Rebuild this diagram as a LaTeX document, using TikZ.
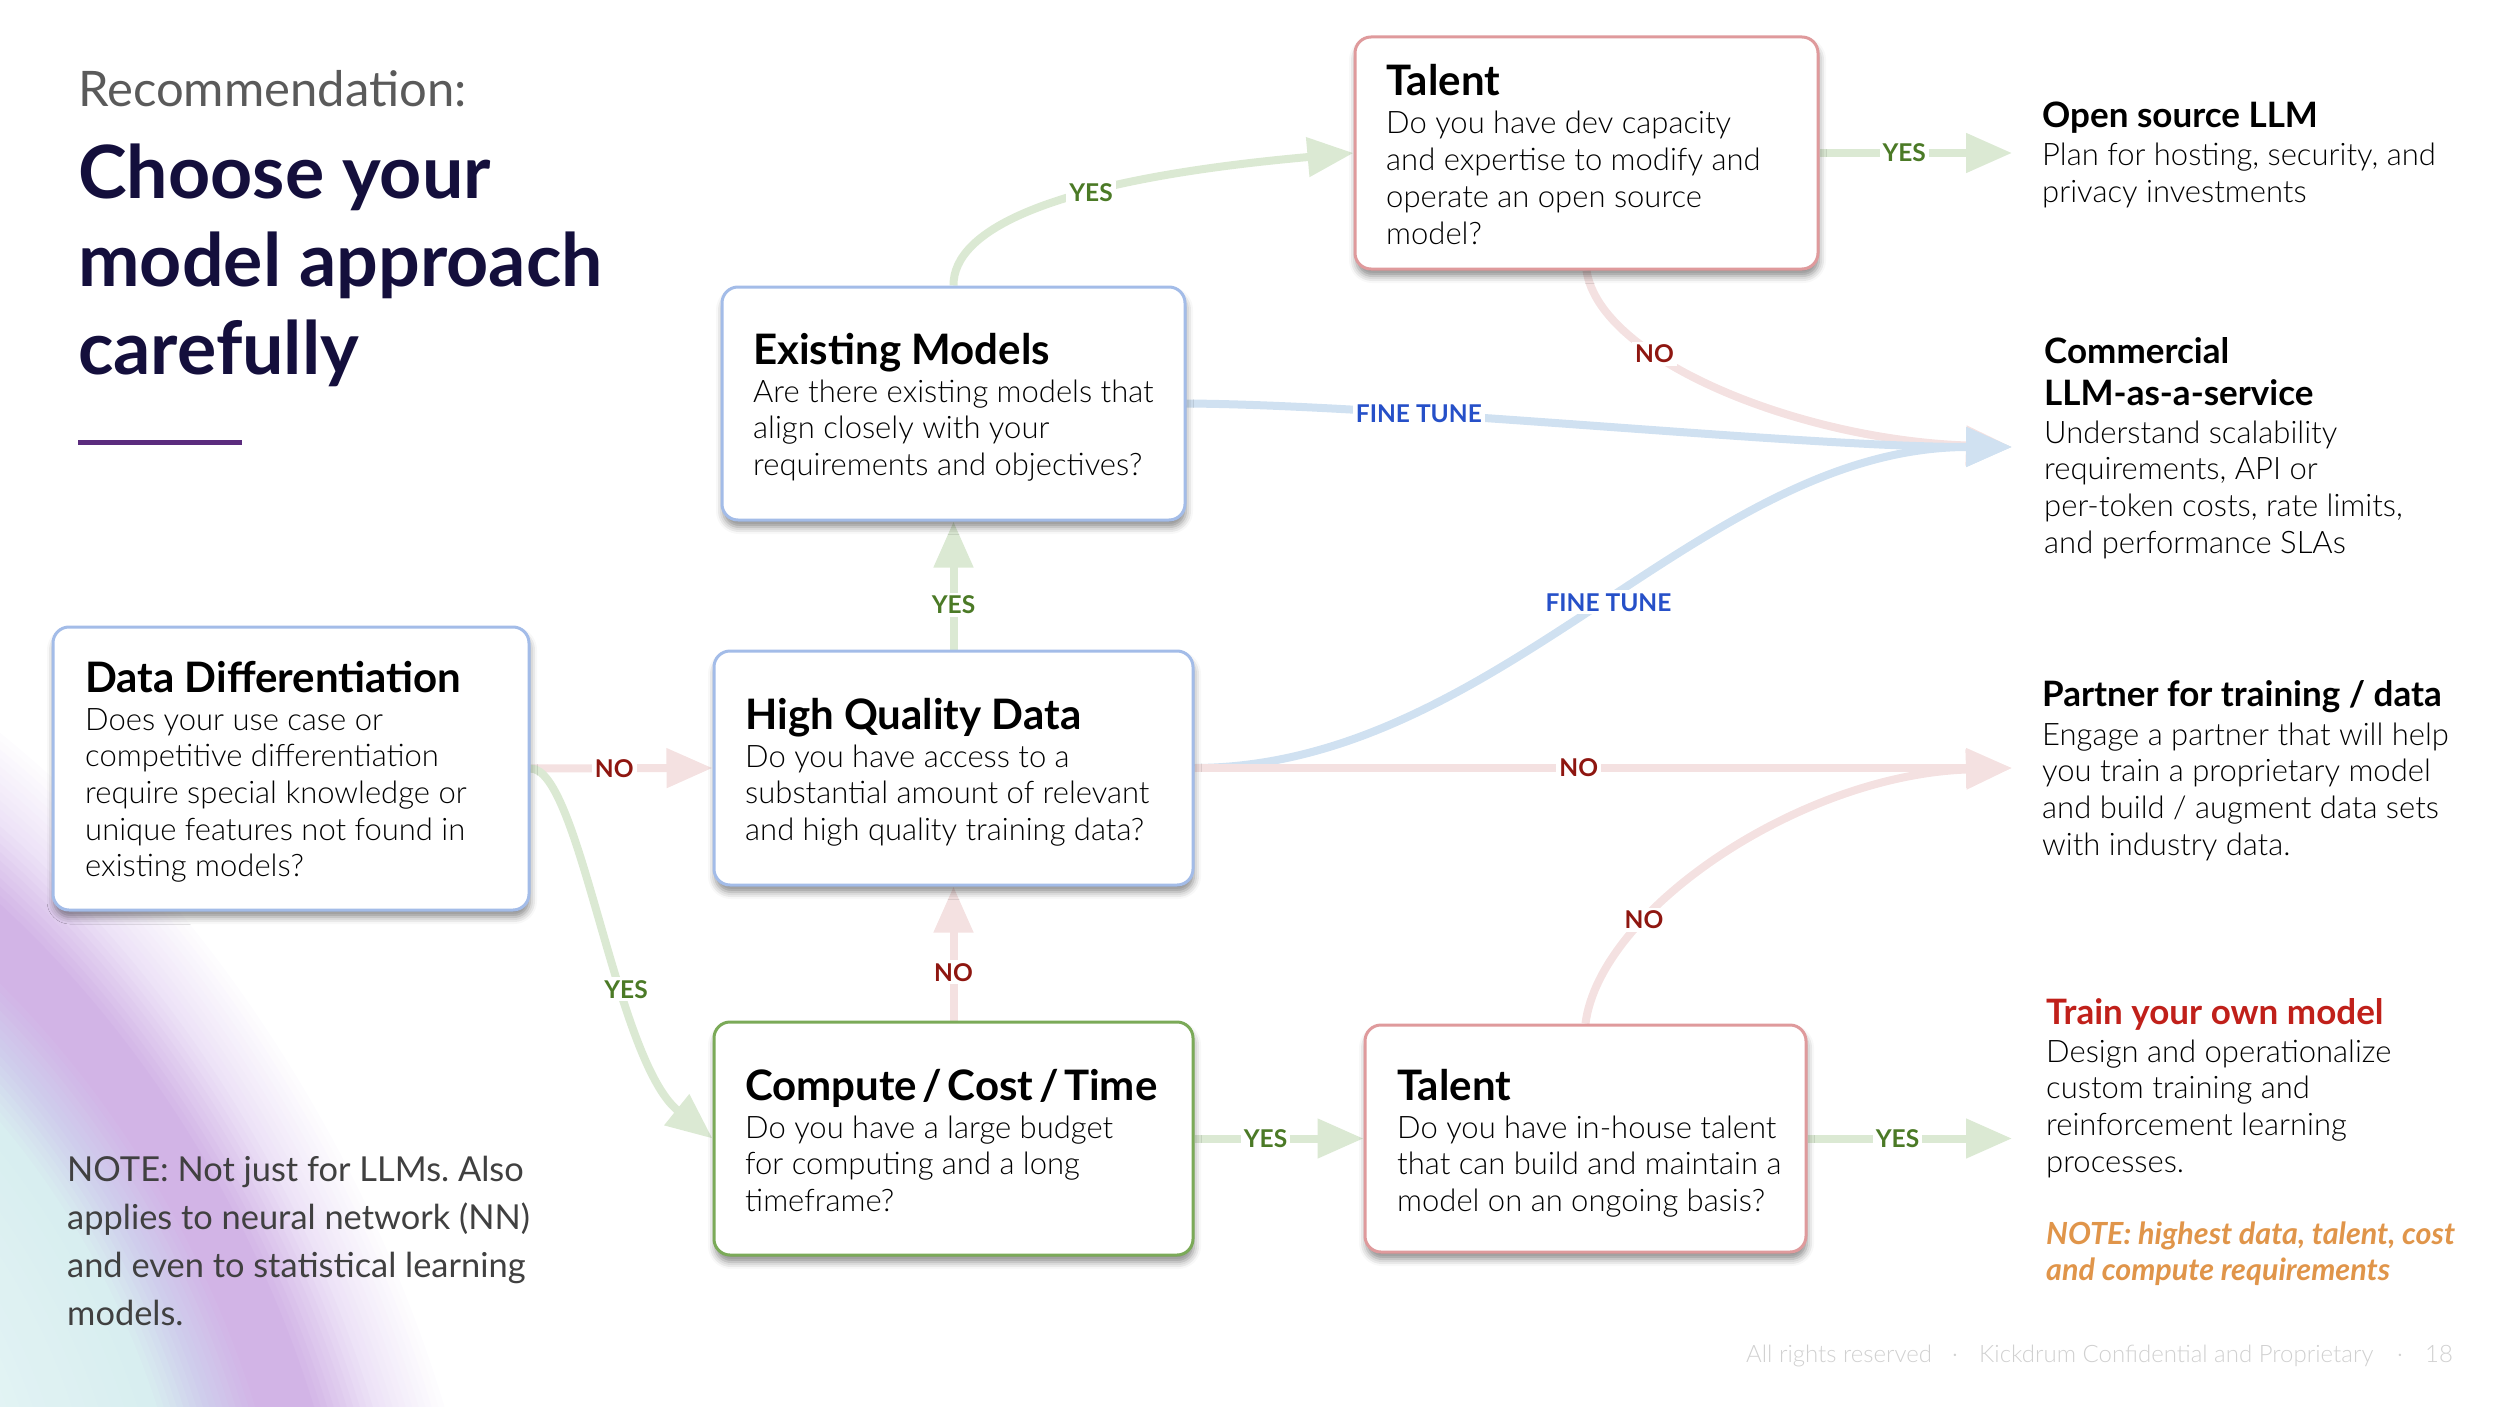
\documentclass[tikz,border=0pt]{standalone}
\usepackage{fontspec}
\setmainfont{Lato}
\newfontfamily\latolight{Lato Light}
\usetikzlibrary{arrows.meta,shadows.blur}
\pgfdeclarelayer{lines}
\pgfsetlayers{lines,main}
\definecolor{navy}{HTML}{140F3C}
\definecolor{graytitle}{HTML}{5A5A5A}
\definecolor{barpurple}{HTML}{5B2C7E}
\definecolor{bluebd}{HTML}{A3BCE8}
\definecolor{redbd}{HTML}{DF9A9C}
\definecolor{greenbd}{HTML}{7BAA58}
\definecolor{gline}{HTML}{DBE9D3}
\definecolor{rline}{HTML}{F4E1E1}
\definecolor{bline}{HTML}{D0E1F1}
\definecolor{gtext}{HTML}{4B7A26}
\definecolor{rtext}{HTML}{8E1610}
\definecolor{btext}{HTML}{2650C8}
\definecolor{trainred}{HTML}{C0201A}
\definecolor{noteorange}{HTML}{E0954A}
\definecolor{footgray}{HTML}{D0D0D0}
\definecolor{notegray}{HTML}{404040}
\definecolor{blobA}{HTML}{F0FAF9}
\definecolor{blobC}{HTML}{D8EEF0}
\definecolor{blobD}{HTML}{CFCDEC}
\definecolor{blobE}{HTML}{D2B4E6}
\definecolor{blobF}{HTML}{EDE3F7}
\newcommand\mlines[1]{\vtop{\let\\\cr\halign{##\hfil\cr#1\crcr}}}
\tikzset{
  box/.style={draw, line width=3pt, rounded corners=16pt, fill=white, inner sep=0pt,
    blur shadow={shadow xshift=1pt, shadow yshift=-7pt, shadow blur radius=7pt, shadow opacity=45}},
  ttl/.style={anchor=base west, inner sep=0pt, font=\bfseries\fontsize{42}{48}\selectfont},
  bdy/.style={anchor=base west, inner sep=0pt, font=\latolight\fontsize{31}{36.7}\selectfont},
  rt/.style={anchor=base west, inner sep=0pt, font=\bfseries\fontsize{35}{42}\selectfont},
  conn/.style={line width=8pt, -{Triangle[length=46pt,width=38pt]}},
  gconn/.style={conn, draw=gline},
  rconn/.style={conn, draw=rline},
  bconn/.style={conn, draw=bline},
  lbl/.style={fill=white, inner sep=3pt, font=\bfseries\fontsize{24.5}{24.5}\selectfont},
  glbl/.style={lbl, text=gtext},
  rlbl/.style={lbl, text=rtext},
  blbl/.style={lbl, text=btext},
  foot/.style={anchor=base west, inner sep=0pt, text=footgray, font=\latolight\fontsize{24}{24}\selectfont}
}
\newcommand\blobring[2]{\fill[#1] (0,0) ellipse [x radius={9.12pt*#2}, y radius={6.07pt*#2}];}
\begin{document}
\frenchspacing
\begin{tikzpicture}[x=1pt,y=-1pt]
\useasboundingbox (0,0) rectangle (2500,1407);
% background glow (bottom-left)
\begin{scope}
\clip (0,0) rectangle (2500,1407);
\begin{scope}[shift={(-239,1435)}, rotate=-60.6]
\foreach \f [evaluate=\f as \p using {(107-\f)*100/11}] in {106,105,...,96} {\blobring{blobF!\p!white}{\f}}
\foreach \f [evaluate=\f as \p using {(96-\f)*10}] in {95,94,...,86} {\blobring{blobE!\p!blobF}{\f}}
\blobring{blobE}{85}
\foreach \f [evaluate=\f as \p using {(78-\f)*100/8}] in {78,77,...,70} {\blobring{blobD!\p!blobE}{\f}}
\foreach \f [evaluate=\f as \p using {(70-\f)*100/8}] in {69,68,...,62} {\blobring{blobC!\p!blobD}{\f}}
\foreach \f [evaluate=\f as \p using {(62-\f)*100/57}] in {61,59,...,5} {\blobring{blobA!\p!blobC}{\f}}
\end{scope}
\end{scope}

% title
\node[anchor=base west, inner sep=0pt, text=graytitle, font=\fontsize{49}{60}\selectfont] (rec) at (78,107) {Recommendation:};
\node[anchor=base west, inner sep=0pt, text=navy, font=\bfseries\fontsize{73.5}{88}\selectfont] (head) at (78,199) {\mlines{Choose your\\model approach\\carefully}};
\draw[barpurple, line width=5pt] (78,442) -- (242,442);

% boxes
\node[box, draw=bluebd, minimum width=476pt, minimum height=283pt] (dd) at (291,768.5) {};
\node[box, draw=bluebd, minimum width=479pt, minimum height=234pt] (hqd) at (953.5,768) {};
\node[box, draw=bluebd, minimum width=463pt, minimum height=233pt] (ex) at (953.5,403.5) {};
\node[box, draw=redbd, minimum width=463pt, minimum height=232pt] (tt) at (1586.5,153) {};
\node[box, draw=greenbd, minimum width=479pt, minimum height=233pt] (cc) at (953.5,1138.5) {};
\node[box, draw=redbd, minimum width=441pt, minimum height=227pt] (tb) at (1585.5,1138.5) {};

% box texts
\node[ttl] (ddt) at (85,692) {Data Differentiation};
\node[bdy] (ddb) at (85,730) {\mlines{Does your use case or\\competitive differentiation\\require special knowledge or\\unique features not found in\\existing models?}};
\node[ttl] (hqdt) at (745,729) {High Quality Data};
\node[bdy] (hqdb) at (745,767) {\mlines{Do you have access to a\\substantial amount of relevant\\and high quality training data?}};
\node[ttl] (ext) at (753,364) {Existing Models};
\node[bdy] (exb) at (753,402) {\mlines{Are there existing models that\\align closely with your\\requirements and objectives?}};
\node[ttl] (ttt) at (1386,96) {Talent};
\node[bdy] (ttb) at (1386,134) {\mlines{Do you have dev capacity\\and expertise to modify and\\operate an open source\\model?}};
\node[ttl] (cct) at (745,1100) {Compute\kern5.5pt/\kern5.5pt Cost\kern5.5pt/\kern5.5pt Time};
\node[bdy] (ccb) at (745,1138) {\mlines{Do you have a large budget\\for computing and a long\\timeframe?}};
\node[ttl] (tbt) at (1397,1100) {Talent};
\node[bdy] (tbb) at (1397,1138) {\mlines{Do you have in-house talent\\that can build and maintain a\\model on an ongoing basis?}};

% right column
\coordinate (os) at (2012,153);
\coordinate (cm) at (2012,447);
\coordinate (pt) at (2012,768);
\coordinate (tr) at (2012,1138.5);
\node[rt] (ost) at (2042,128) {Open source LLM};
\node[bdy] (osb) at (2042,166) {\mlines{Plan for hosting, security, and\\privacy investments}};
\node[rt] (cmt) at (2044,363) {\mlines{Commercial\\LLM-as-a-service}};
\node[bdy] (cmb) at (2044,443) {\mlines{Understand scalability\\requirements, API or\\per-token costs, rate limits,\\and performance SLAs}};
\node[rt] (ptt) at (2042,706) {Partner for training / data};
\node[bdy] (ptb) at (2042,745) {\mlines{Engage a partner that will help\\you train a proprietary model\\and build / augment data sets\\with industry data.}};
\node[rt, text=trainred] (trt) at (2046,1024) {Train your own model};
\node[bdy] (trb) at (2046,1062) {\mlines{Design and operationalize\\custom training and\\reinforcement learning\\processes.}};
\node[anchor=base west, inner sep=0pt, text=noteorange, font=\bfseries\itshape\fontsize{30.5}{36.7}\selectfont] (trn) at (2046,1244) {\mlines{NOTE: highest data, talent, cost\\and compute requirements}};

% bottom-left note
\node[anchor=base west, inner sep=0pt, text=notegray, font=\fontsize{34.4}{48.3}\selectfont] (nn) at (67,1181) {\mlines{NOTE: Not just for LLMs. Also\\applies to neural network (NN)\\and even to statistical learning\\models.}};

% footer
\node[foot] (f1) at (1746,1362) {All rights reserved};
\node[foot] (f2) at (1952,1362) {·};
\node[foot] (f3) at (1979,1362) {Kickdrum Confidential and Proprietary};
\node[foot] (f4) at (2397,1362) {·};
\node[foot] (f5) at (2425,1362) {18};

% connectors
\begin{pgfonlayer}{lines}
\draw[rconn] (dd.east) -- (hqd.west) node[rlbl,pos=0.46] (l1) {NO};
\draw[gconn] (dd.east) .. controls (580,768) and (615,1060) .. (cc.west) node[glbl,pos=0.63] (l2) {YES};
\draw[rconn] (cc.north) -- (hqd.south) node[rlbl,pos=0.36] (l3) {NO};
\draw[gconn] (hqd.north) -- (ex.south) node[glbl,pos=0.35] (l4) {YES};
\draw[gconn] (ex.north) .. controls (953,230) and (1050,180) .. (tt.west) node[glbl,pos=0.62] (l5) {YES};
\draw[gconn] (tt.east) -- (os) node[glbl,pos=0.44] (l6) {YES};
\draw[rconn] (tt.south) .. controls (1600,360) and (1800,440) .. (cm) node[rlbl,pos=0.33] (l7) {NO};
\draw[bconn] (ex.east) .. controls (1400,405) and (1800,447) .. (cm) node[blbl,pos=0.3] (l8) {FINE TUNE};
\draw[bconn] (hqd.east) .. controls (1500,767) and (1700,447) .. (cm) node[blbl,pos=0.51] (l9) {FINE TUNE};
\draw[rconn] (hqd.east) -- (pt) node[rlbl,pos=0.47] (l10) {NO};
\draw[rconn] (tb.north) .. controls (1600,910) and (1800,775) .. (pt) node[rlbl,pos=0.3] (l11) {NO};
\draw[gconn] (cc.east) -- (tb.west) node[glbl,pos=0.42] (l12) {YES};
\draw[gconn] (tb.east) -- (tr) node[glbl,pos=0.44] (l13) {YES};
\end{pgfonlayer}
\end{tikzpicture}
\end{document}
